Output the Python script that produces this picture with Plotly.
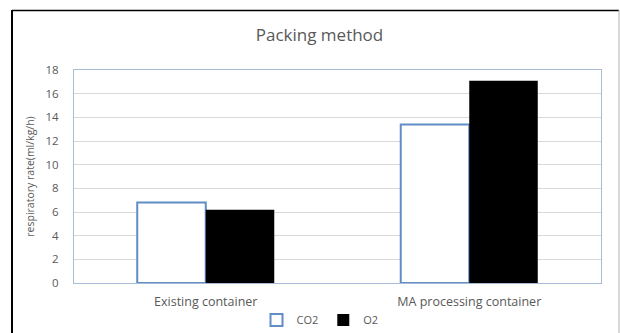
import plotly.graph_objects as go

categories = ["Existing container", "MA processing container"]
co2_values = [6.8, 13.4]
o2_values = [6.2, 17.1]
y_ticks = [0, 2, 4, 6, 8, 10, 12, 14, 16, 18]

W, H = 620, 333
L, R, T, B = 74, 19, 70, 50
FONT = "Open Sans"
GRAY = "#595959"

fig = go.Figure()
fig.add_trace(go.Bar(
    name="CO2", x=categories, y=co2_values,
    marker=dict(color="white", line=dict(color="#5F8DC6", width=2)),
))
fig.add_trace(go.Bar(
    name="O2", x=categories, y=o2_values,
    marker=dict(color="black", line=dict(color="black", width=0)),
))

def px(x):
    return (x - L) / (W - L - R)

def py(y):
    return 1 - (y - T) / (H - T - B)

# outer frame of the chart
fig.add_shape(type="line", xref="paper", yref="paper",
              x0=px(12), x1=px(12), y0=py(10), y1=py(340),
              line=dict(color="black", width=2))
fig.add_shape(type="line", xref="paper", yref="paper",
              x0=px(12), x1=px(619), y0=py(10.5), y1=py(10.5),
              line=dict(color="black", width=1.5))
fig.add_shape(type="line", xref="paper", yref="paper",
              x0=px(619), x1=px(619), y0=py(10), y1=py(340),
              line=dict(color="#b0b0b0", width=1))

fig.update_layout(
    width=W, height=H,
    margin=dict(l=L, r=R, t=T, b=B, autoexpand=False),
    paper_bgcolor="white", plot_bgcolor="white",
    barmode="group", bargap=0.48, bargroupgap=0,
    title=dict(text="Packing method", xref="paper", x=px(319.5), xanchor="center",
               y=1 - 35 / H, yanchor="middle",
               font=dict(family=FONT, size=17, color=GRAY)),
    font=dict(family=FONT, color=GRAY),
    showlegend=True,
    legend=dict(orientation="h", x=px(320), xanchor="center",
                y=py(320), yanchor="middle",
                font=dict(family=FONT, size=11, color=GRAY),
                itemwidth=30, tracegroupgap=0, bgcolor="rgba(0,0,0,0)"),
    xaxis=dict(showline=True, mirror=True, linecolor="#A9BCD6", linewidth=1,
               ticks="", ticklabelstandoff=7,
               tickfont=dict(family=FONT, size=12.5, color=GRAY),
               showgrid=False),
    yaxis=dict(range=[0, 18], tickvals=y_ticks, showline=True, mirror=True,
               linecolor="#A9BCD6", linewidth=1, gridcolor="#D9D9D9",
               ticks="", ticklabelstandoff=12,
               tickfont=dict(family=FONT, size=11.5, color=GRAY),
               zeroline=False,
               title=dict(text="respiratory rate(ml/kg/h)", standoff=8,
                          font=dict(family=FONT, size=10.5, color=GRAY))),
)

fig.write_html("out.html")
